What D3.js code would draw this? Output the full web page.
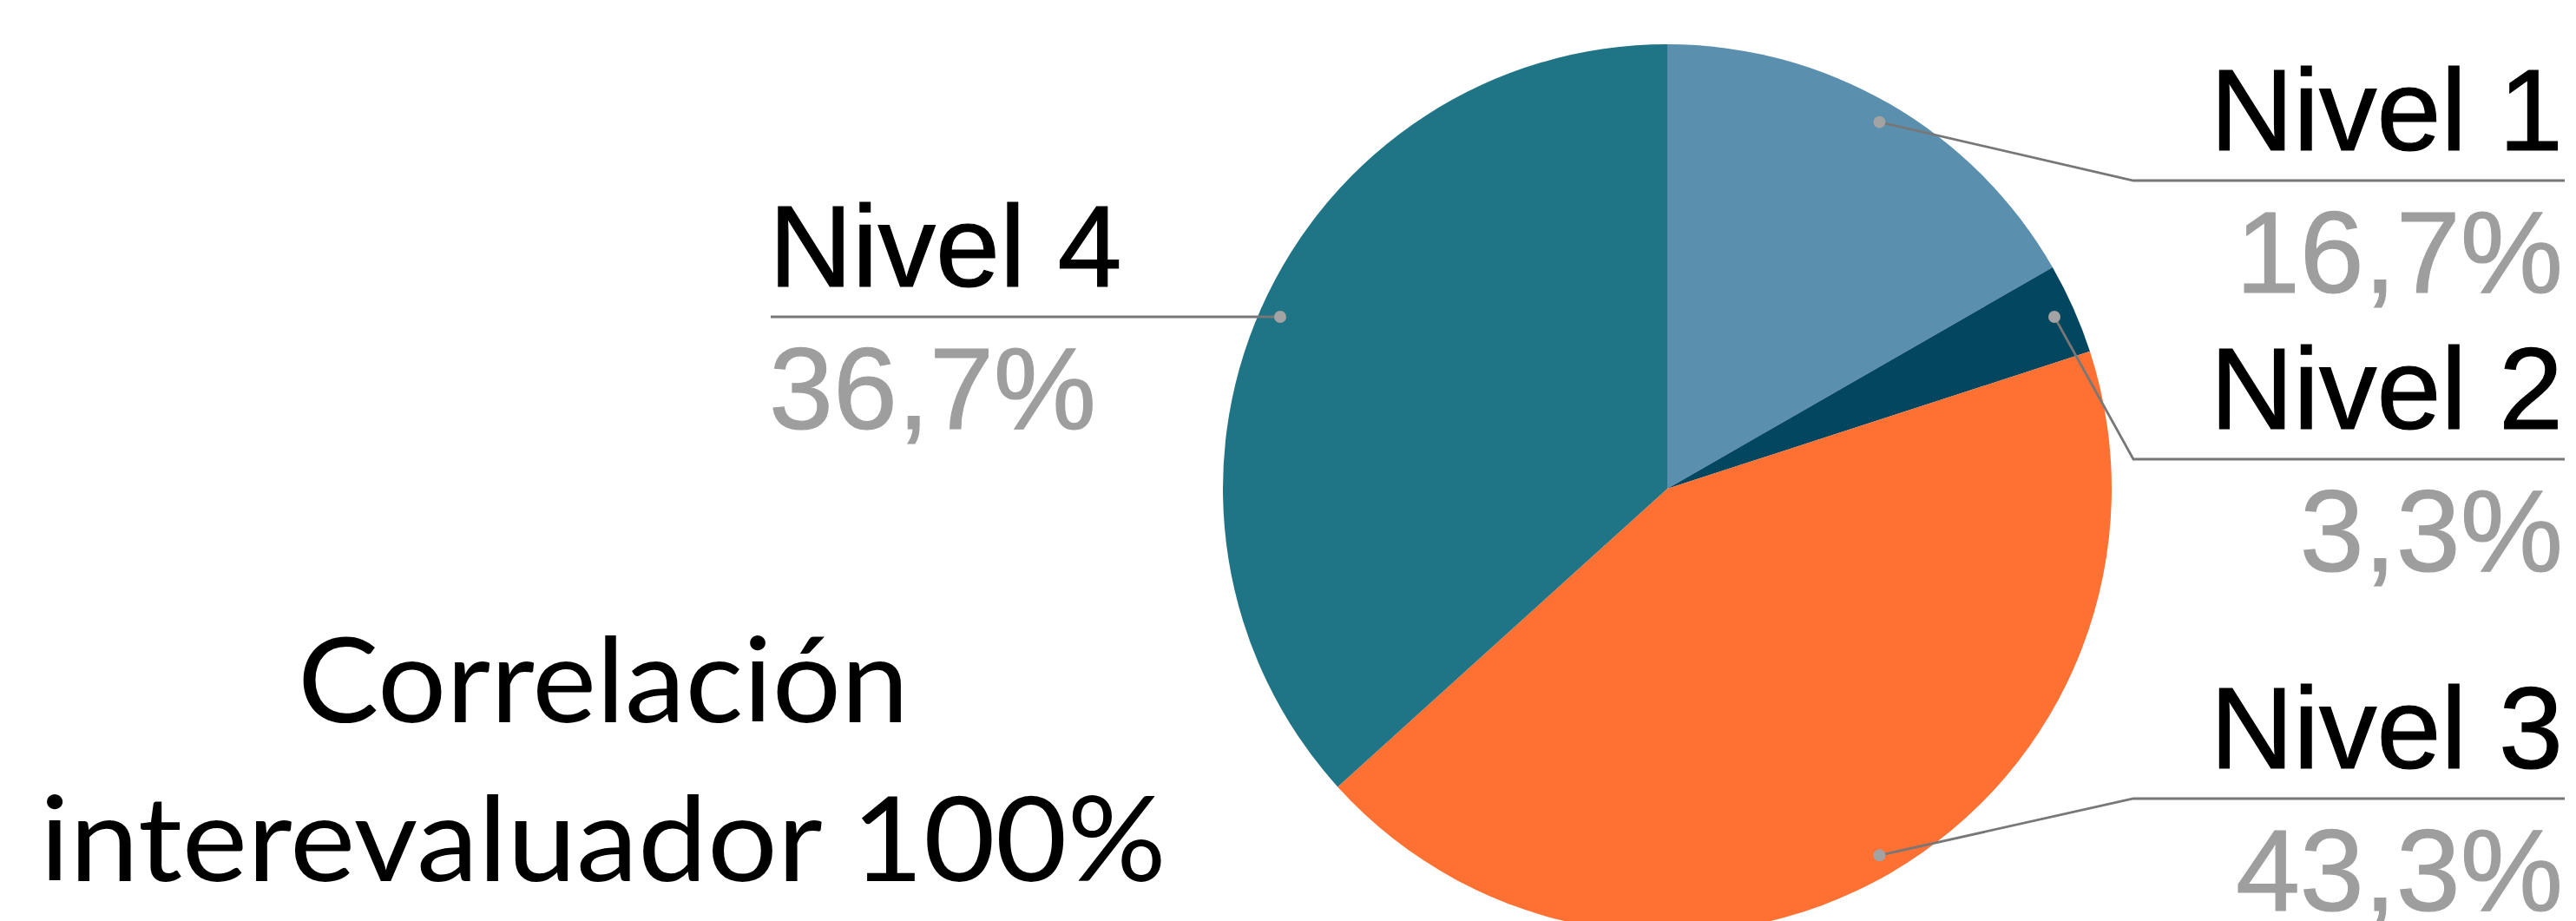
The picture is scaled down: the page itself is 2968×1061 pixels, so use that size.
<!DOCTYPE html>
<html>
<head>
<meta charset="utf-8">
<script src="https://cdn.jsdelivr.net/npm/d3@7"></script>
<style>
  body { margin: 0; background: #fff; overflow: hidden; }
  svg { display: block; }
</style>
</head>
<body>
<svg id="chart" width="2968" height="1061"></svg>
<script>
// data
var niveles = ["Nivel 1", "Nivel 2", "Nivel 3", "Nivel 4"];
var porcentajes = [16.7, 3.3, 43.3, 36.7];
var etiquetas = ["16,7%", "3,3%", "43,3%", "36,7%"];
var colores = ["#5b8fae", "#02465f", "#ff7033", "#1f7585"];
var titulo = ["Correlación", "interevaluador 100%"];

var svg = d3.select("#chart");
var cx = 1921, cy = 563, r = 512;

var color = d3.scaleOrdinal().domain(niveles).range(colores);

var pie = d3.pie().sort(null).value(function(d){ return d.v });
var arcs = pie(niveles.map(function(n, i){ return { name: n, v: porcentajes[i], label: etiquetas[i] } }));

var arc = d3.arc().innerRadius(0).outerRadius(r);
var dotArc = d3.arc().innerRadius(488).outerRadius(488);

var g = svg.append("g").attr("transform", "translate(" + cx + "," + cy + ")");

g.selectAll(".slice").data(arcs).enter().append("path")
  .attr("class", "slice")
  .attr("d", arc)
  .attr("fill", function(d){ return color(d.data.name) });

// label layout: y of the underline, side of chart
var layout = {
  "Nivel 1": { y: 208, side: "right" },
  "Nivel 2": { y: 529, side: "right" },
  "Nivel 3": { y: 920, side: "right" },
  "Nivel 4": { y: 365, side: "left" }
};
var rightX0 = 2458, rightX1 = 2955, leftX0 = 888;

var lab = svg.append("g");
arcs.forEach(function(d){
  var c = dotArc.centroid(d);
  var px = cx + c[0], py = cy + c[1];
  var L = layout[d.data.name];
  var pts;
  if (L.side == "right") {
    pts = [[px, py], [rightX0, L.y], [rightX1, L.y]];
  } else {
    pts = [[px, py], [leftX0, L.y]];
  }
  lab.append("path")
    .attr("d", d3.line()(pts))
    .attr("fill", "none")
    .attr("stroke", "#777")
    .attr("stroke-width", 2.8);
  lab.append("circle")
    .attr("cx", px).attr("cy", py).attr("r", 7)
    .attr("fill", "#a3a3a3");

  var tx = L.side == "right" ? 2953 : 886;
  var anchor = L.side == "right" ? "end" : "start";
  lab.append("text")
    .attr("x", tx).attr("y", L.y - 35)
    .attr("text-anchor", anchor)
    .style("font-family", "'Liberation Sans', Arial, sans-serif")
    .style("font-size", "133px")
    .attr("fill", "#000")
    .attr("stroke", "#000").attr("stroke-width", 1.2)
    .text(d.data.name);
  lab.append("text")
    .attr("x", tx).attr("y", L.y + 129)
    .attr("text-anchor", anchor)
    .style("font-family", "'Liberation Sans', Arial, sans-serif")
    .style("font-size", "133px")
    .attr("fill", "#9e9e9e")
    .attr("stroke", "#9e9e9e").attr("stroke-width", 1.2)
    .text(d.data.label);
});

// title on the left
var tw = [704, 1298];
var tyy = [832, 1015];
svg.selectAll(".titulo").data(titulo).enter().append("text")
  .attr("class", "titulo")
  .attr("x", 695)
  .attr("y", function(d, i){ return tyy[i] })
  .attr("text-anchor", "middle")
  .attr("textLength", function(d, i){ return tw[i] })
  .attr("lengthAdjust", "spacingAndGlyphs")
  .style("font-family", "Lato, 'Open Sans', sans-serif")
  .style("font-size", "136px")
  .attr("fill", "#000")
  .text(function(d){ return d });
</script>
</body>
</html>
